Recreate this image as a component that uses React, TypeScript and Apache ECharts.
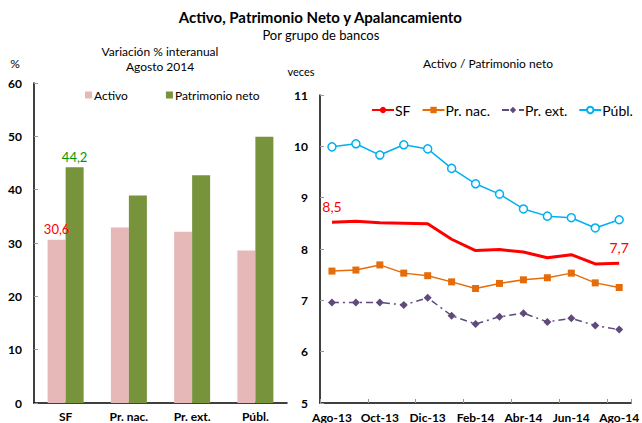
import React, { useEffect, useRef } from "react";
import * as echarts from "echarts";

const barCategories = ["SF", "Pr. nac.", "Pr. ext.", "Públ."];
const activoValues = [30.6, 32.9, 32.1, 28.6];
const patrimonioValues = [44.2, 38.9, 42.7, 49.9];

const months = ["Ago-13", "Sep-13", "Oct-13", "Nov-13", "Dic-13", "Ene-14", "Feb-14", "Mar-14", "Abr-14", "May-14", "Jun-14", "Jul-14", "Ago-14"];
const sfValues = [8.52, 8.54, 8.51, 8.5, 8.49, 8.19, 7.97, 7.99, 7.94, 7.83, 7.89, 7.71, 7.72];
const prNacValues = [7.57, 7.59, 7.69, 7.53, 7.48, 7.36, 7.23, 7.33, 7.4, 7.44, 7.53, 7.34, 7.25];
const prExtValues = [6.96, 6.96, 6.96, 6.91, 7.05, 6.7, 6.54, 6.68, 6.75, 6.58, 6.65, 6.51, 6.43];
const publValues = [9.99, 10.05, 9.83, 10.03, 9.95, 9.57, 9.27, 9.07, 8.78, 8.64, 8.61, 8.41, 8.57];

const FONT = "Lato, 'DejaVu Sans', sans-serif";
const fmt = (v: number) => v.toFixed(1).replace(".", ",");

export default function App() {
  const ref = useRef<HTMLDivElement>(null);
  useEffect(() => {
    if (!ref.current) return;
    const chart = echarts.init(ref.current, null, { renderer: "svg" });
    const axisLine = { show: true, lineStyle: { color: "#000", width: 1.5 } };
    const axisLabelY = { color: "#000", fontFamily: FONT, fontWeight: "bold", fontSize: 12, margin: 12 };
    const lastIdx = sfValues.length - 1;
    chart.setOption({
      animation: false,
      backgroundColor: "#fff",
      textStyle: { fontFamily: FONT },
      graphic: [
        { type: "text", left: "center", top: 9, style: { text: "Activo, Patrimonio Neto y Apalancamiento", font: `bold 15px ${FONT}`, fill: "#000" } },
        { type: "text", left: "center", top: 28, style: { text: "Por grupo de bancos", font: `13px ${FONT}`, fill: "#000" } },
        { type: "text", x: 160, y: 45, style: { text: "Variación % interanual", font: `12px ${FONT}`, fill: "#000", align: "center" } },
        { type: "text", x: 160, y: 60, style: { text: "Agosto 2014", font: `12px ${FONT}`, fill: "#000", align: "center" } },
        { type: "text", x: 15, y: 57, style: { text: "%", font: `12px ${FONT}`, fill: "#000", align: "center" } },
        { type: "text", x: 301, y: 66, style: { text: "veces", font: `11px ${FONT}`, fill: "#000", align: "center" } },
        { type: "text", x: 488, y: 57, style: { text: "Activo / Patrimonio neto", font: `12px ${FONT}`, fill: "#000", align: "center" } },
      ],
      legend: [
        {
          left: 80, top: 84, itemWidth: 7, itemHeight: 7, itemGap: 38,
          icon: "rect",
          textStyle: { fontFamily: FONT, fontSize: 12, color: "#000", padding: [0, 0, 0, -3] },
          data: ["Activo", "Patrimonio neto"],
        },
        {
          left: 366, top: 98, itemWidth: 22, itemHeight: 8, itemGap: 11,
          textStyle: { fontFamily: FONT, fontSize: 14, color: "#000", padding: [0, 0, 0, -4] },
          data: ["SF", "Pr. nac.", "Pr. ext.", "Públ."],
        },
      ],
      grid: [
        { left: 34, top: 83, width: 253, height: 320 },
        { left: 320, top: 95, width: 314, height: 308 },
      ],
      xAxis: [
        {
          type: "category", gridIndex: 0, data: barCategories,
          axisLine, axisTick: { show: false },
          axisLabel: { color: "#000", fontFamily: FONT, fontWeight: "bold", fontSize: 12, margin: 7 },
        },
        {
          type: "category", gridIndex: 1, data: months, boundaryGap: true,
          axisLine,
          axisTick: { show: true, inside: true, length: 4, interval: 1, lineStyle: { color: "#999" } },
          axisLabel: { interval: 1, color: "#000", fontFamily: FONT, fontWeight: "bold", fontSize: 12, margin: 8 },
        },
      ],
      yAxis: [
        {
          type: "value", gridIndex: 0, min: 0, max: 60, interval: 10,
          axisLine, axisTick: { show: true, inside: true, length: 4, lineStyle: { color: "#999" } },
          splitLine: { show: false }, axisLabel: axisLabelY,
        },
        {
          type: "value", gridIndex: 1, min: 5, max: 11, interval: 1,
          axisLine, axisTick: { show: true, inside: true, length: 4, lineStyle: { color: "#999" } },
          splitLine: { show: false }, axisLabel: axisLabelY,
        },
      ],
      series: [
        {
          name: "Activo", type: "bar", xAxisIndex: 0, yAxisIndex: 0, barWidth: 18, barGap: "0%",
          itemStyle: { color: "#E6B9B8" },
          data: activoValues.map((v, i) => ({
            value: v,
            label: i === 0 ? { show: true, position: "top", formatter: () => fmt(v), color: "#FF0000", fontFamily: FONT, fontSize: 13, distance: 4 } : undefined,
          })),
        },
        {
          name: "Patrimonio neto", type: "bar", xAxisIndex: 0, yAxisIndex: 0, barWidth: 18, barGap: "0%",
          itemStyle: { color: "#77933C" },
          data: patrimonioValues.map((v, i) => ({
            value: v,
            label: i === 0 ? { show: true, position: "top", formatter: () => fmt(v), color: "#009900", fontFamily: FONT, fontSize: 13, distance: 4 } : undefined,
          })),
        },
        {
          name: "SF", type: "line", xAxisIndex: 1, yAxisIndex: 1, symbol: "none",
          lineStyle: { color: "#FF0000", width: 3 }, itemStyle: { color: "#FF0000" },
          data: sfValues,
          markPoint: {
            symbol: "circle", symbolSize: 0, silent: true,
            label: { show: true, position: "top", distance: 9, color: "#FF0000", fontFamily: FONT, fontSize: 14, formatter: (p: any) => fmt(p.value) },
            data: [
              { coord: [months[0], sfValues[0]], value: sfValues[0] },
              { coord: [months[lastIdx], sfValues[lastIdx]], value: sfValues[lastIdx] },
            ],
          },
        },
        {
          name: "Pr. nac.", type: "line", xAxisIndex: 1, yAxisIndex: 1, symbol: "rect", symbolSize: 7,
          lineStyle: { color: "#E46C0A", width: 1.5 }, itemStyle: { color: "#E46C0A" },
          data: prNacValues,
        },
        {
          name: "Pr. ext.", type: "line", xAxisIndex: 1, yAxisIndex: 1, symbol: "diamond", symbolSize: 8,
          lineStyle: { color: "#604A7B", width: 1.5, type: [7, 4, 2, 4] }, itemStyle: { color: "#604A7B" },
          data: prExtValues,
        },
        {
          name: "Públ.", type: "line", xAxisIndex: 1, yAxisIndex: 1, symbol: "circle", symbolSize: 8, showAllSymbol: true,
          lineStyle: { color: "#00B0F0", width: 1.5 }, itemStyle: { color: "#fff", borderColor: "#00B0F0", borderWidth: 1.5 },
          data: publValues,
        },
      ],
    });
    return () => chart.dispose();
  }, []);
  return <div ref={ref} style={{ position: "absolute", left: 0, top: 0, width: 642, height: 423 }} />;
}
